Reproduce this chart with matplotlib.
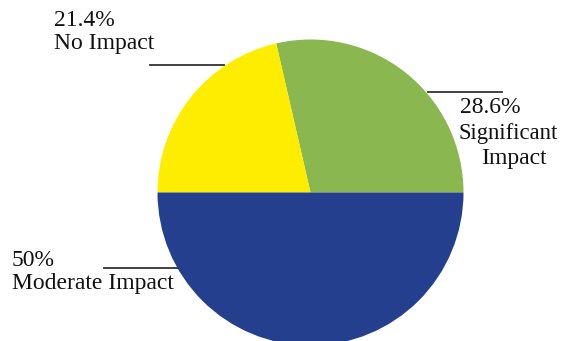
import matplotlib
matplotlib.use("Agg")
import matplotlib.pyplot as plt

labels = ["Significant\nImpact", "No Impact", "Moderate Impact"]
values = [28.6, 21.4, 50.0]
pct_labels = ["28.6%", "21.4%", "50%"]
colors = ["#8AB750", "#FFED00", "#253F8F"]

W, H = 561, 341
fig = plt.figure(figsize=(W / 100, H / 100), dpi=100)
ax = fig.add_axes([0, 0, 1, 1])

cx, cy, r = 310.5, H - 192.5, 153
ax.pie(values, colors=colors, startangle=0, counterclock=True,
       center=(cx, cy), radius=r, frame=True,
       wedgeprops=dict(linewidth=0))
ax.set_xlim(0, W)
ax.set_ylim(0, H)
ax.set_aspect("equal")
ax.axis("off")

font = dict(family="Liberation Serif", fontsize=17, color="#111111")
lc = "#333333"

# No Impact
ax.plot([150, 224], [H - 65, H - 65], color=lc, lw=1.3)
ax.text(54, H - 10, pct_labels[1] + "\n" + labels[1], ha="left", va="top",
        linespacing=1.1, **font)

# Significant Impact
sig_top, sig_bottom = labels[0].split("\n")
ax.plot([428, 502], [H - 92, H - 92], color=lc, lw=1.3)
ax.text(460, H - 97, pct_labels[0], ha="left", va="top", **font)
ax.text(558, H - 123, sig_top, ha="right", va="top",
        **{**font, "fontsize": 16.3})
ax.text(514, H - 148, sig_bottom, ha="center", va="top", **font)

# Moderate Impact
ax.plot([104, 178], [H - 268, H - 268], color=lc, lw=1.3)
ax.text(12, H - 250, pct_labels[2] + "\n" + labels[2], ha="left", va="top",
        linespacing=1.1, **font)

fig.savefig("out.png", dpi=100)
